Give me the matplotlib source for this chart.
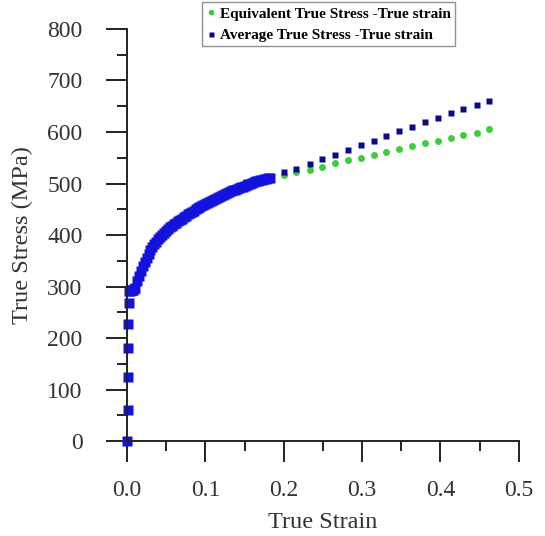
import matplotlib
matplotlib.use('Agg')
import matplotlib.pyplot as plt
from matplotlib.ticker import MultipleLocator, FormatStrFormatter

plt.rcParams['font.family'] = 'Liberation Serif'

# measured curve up to necking (average true stress)
strain_pre = [0.0, 0.0010, 0.0012, 0.0015, 0.0018, 0.0022, 0.0030, 0.0040, 0.0050, 0.0060,
              0.0070, 0.0080, 0.0090,
              0.0100, 0.0125, 0.0150, 0.0175, 0.0200, 0.0225, 0.0250, 0.0275, 0.0300, 0.0325,
              0.0350, 0.0375, 0.0400, 0.0425, 0.0450, 0.0475, 0.0500, 0.0525, 0.0550, 0.0575,
              0.0600, 0.0625, 0.0650, 0.0675, 0.0700, 0.0725, 0.0750, 0.0775, 0.0800, 0.0825,
              0.0850, 0.0875, 0.0900, 0.0925, 0.0950, 0.0975, 0.1000, 0.1025, 0.1050, 0.1075,
              0.1100, 0.1125, 0.1150, 0.1175, 0.1200, 0.1225, 0.1250, 0.1275, 0.1300, 0.1325,
              0.1350, 0.1375, 0.1400, 0.1425, 0.1450, 0.1475, 0.1500, 0.1525, 0.1550, 0.1575,
              0.1600, 0.1625, 0.1650, 0.1675, 0.1700, 0.1725, 0.1750, 0.1775, 0.1800, 0.1825]
stress_pre = [0, 60, 125, 180, 228, 268, 292, 292, 293, 293,
              294, 294, 295,
              297, 310, 321, 331, 340, 348, 356, 363, 370, 376,
              382, 387, 392, 396, 400, 404, 408, 412, 415, 418,
              421, 424, 427, 430, 432, 435, 437, 440, 442, 445,
              447, 450, 452, 454, 456, 458, 460, 462, 464, 466,
              468, 470, 472, 474, 476, 478, 480, 481, 483, 485,
              487, 488, 490, 491, 493, 494, 496, 497, 499, 500,
              501, 503, 504, 505, 506, 507, 508, 509, 510, 511]

# extrapolated part after necking
strain_post = [0.200, 0.216, 0.233, 0.249, 0.266, 0.282, 0.298, 0.315, 0.331,
               0.347, 0.364, 0.380, 0.397, 0.413, 0.429, 0.446, 0.462]
stress_avg = [522, 529, 538, 547, 556, 565, 574, 583, 592,
              601, 610, 619, 628, 636, 645, 653, 661]
stress_eq = [516, 522, 527, 533, 539, 545, 550, 556, 562,
             567, 573, 578, 583, 589, 594, 599, 605]

fig = plt.figure(figsize=(5.45, 5.36), dpi=100)
ax = fig.add_axes([0.233, 0.177, 0.719, 0.769])

ax.plot(strain_post, stress_eq, 'o', color='#3dcc3d', ms=5, mec='none',
        label='Equivalent True Stress -True strain', clip_on=False)
ax.plot(strain_pre, stress_pre, 's', color='#1212dc', ms=6.5, mec='none', clip_on=False)
ax.plot(strain_post, stress_avg, 's', color='#0a0a86', ms=4.5, mec='none',
        label='Average True Stress -True strain', clip_on=False)

ax.set_xlim(0, 0.5)
ax.set_ylim(0, 800)
ax.xaxis.set_major_locator(MultipleLocator(0.1))
ax.xaxis.set_minor_locator(MultipleLocator(0.05))
ax.yaxis.set_major_locator(MultipleLocator(100))
ax.yaxis.set_minor_locator(MultipleLocator(50))
ax.xaxis.set_major_formatter(FormatStrFormatter('%.1f'))

ax.tick_params(which='major', direction='out', length=15, width=1.4, labelsize=17,
               color='#222222', labelcolor='#333333')
ax.tick_params(which='minor', direction='out', length=7.5, width=1.4, color='#222222')
ax.tick_params(axis='x', which='major', pad=13)
ax.tick_params(axis='y', which='major', pad=17)
for side in ['top', 'right']:
    ax.spines[side].set_visible(False)
for side in ['left', 'bottom']:
    ax.spines[side].set_linewidth(1.4)
    ax.spines[side].set_color('#222222')

ax.set_xlabel('True Strain', fontsize=17.5, color='#333333', labelpad=8)
ax.set_ylabel('True Stress (MPa)', fontsize=17.5, color='#333333', labelpad=10)

leg = fig.legend(loc='lower left', bbox_to_anchor=(0.356, 0.899), fancybox=False,
                 edgecolor='#777777', prop={'weight': 'bold', 'size': 11},
                 handlelength=0.6, handletextpad=0.3, borderpad=0.3,
                 labelspacing=0.5, markerscale=0.8)
leg.get_frame().set_linewidth(1.0)

fig.savefig('out.png', dpi=100)
